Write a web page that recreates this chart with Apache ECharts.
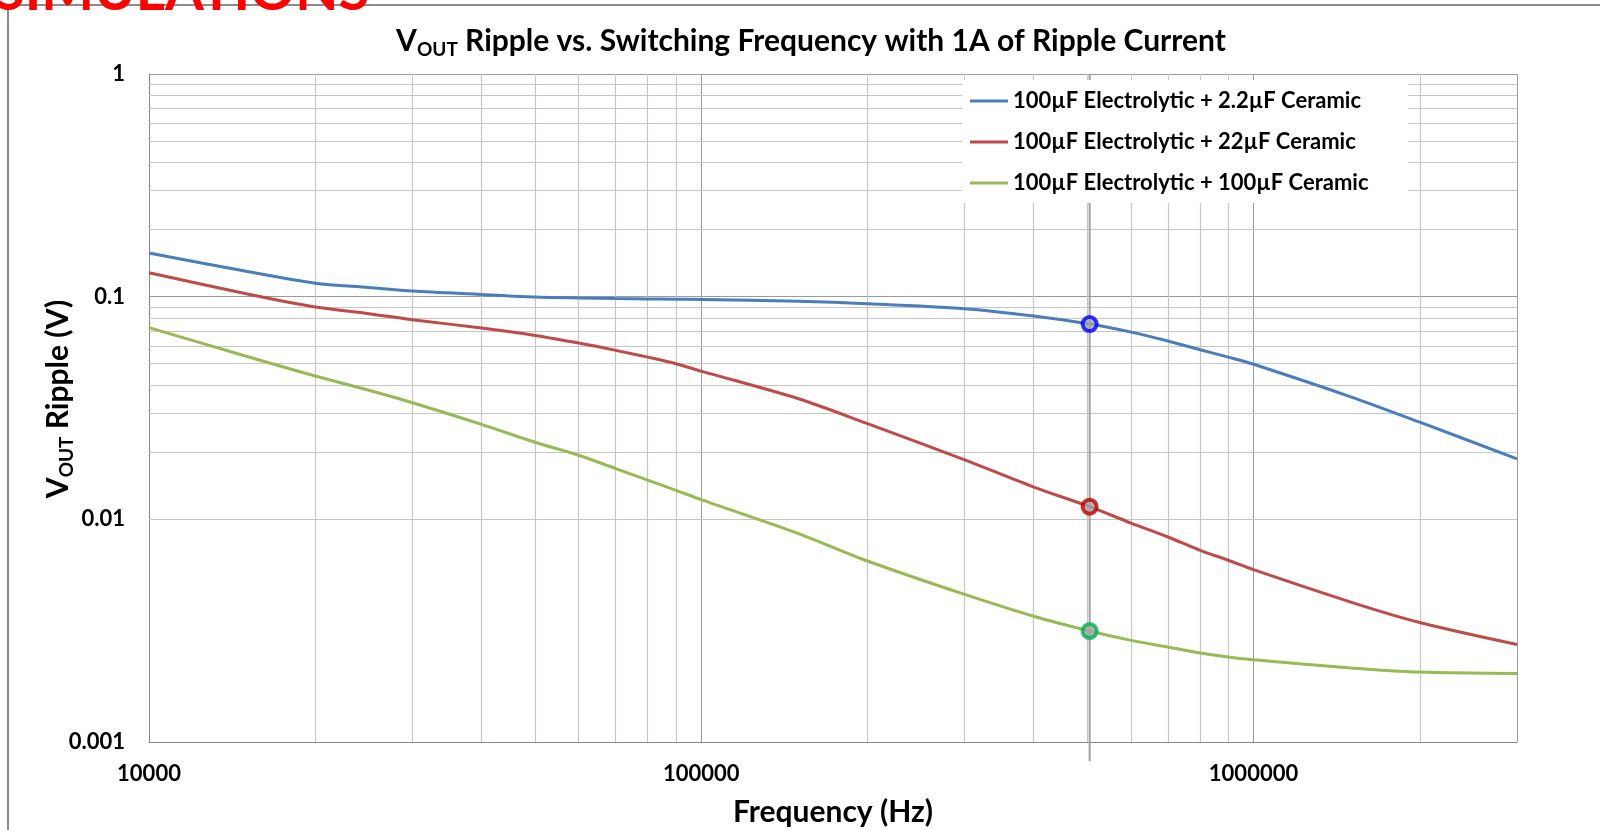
<!DOCTYPE html>
<html>
<head>
<meta charset="utf-8">
<title>VOUT Ripple vs. Switching Frequency</title>
<script src="https://cdn.jsdelivr.net/npm/echarts@6/dist/echarts.min.js"></script>
<style>
  html, body { margin: 0; padding: 0; background: #fff; }
  #chart { width: 1600px; height: 830px; }
</style>
</head>
<body>
<div id="chart"></div>
<script>
// data (Hz / V)
const freqs = [10000, 15000, 20000, 25000, 30000, 40000, 50000, 60000, 70000, 80000, 90000,
  100000, 150000, 200000, 300000, 400000, 505000, 600000, 700000, 800000, 900000,
  1000000, 1500000, 2000000, 3000000];
const ripple22uF = [0.157, 0.13, 0.115, 0.11, 0.106, 0.1023, 0.0996, 0.0986, 0.098, 0.0976, 0.0974,
  0.0972, 0.0953, 0.093, 0.0883, 0.0818, 0.0753, 0.0693, 0.0632, 0.0578, 0.0535,
  0.0497, 0.0355, 0.0273, 0.0187];
const ripple220uF = [0.128, 0.103, 0.0898, 0.0839, 0.0788, 0.0723, 0.067, 0.0619, 0.0574, 0.0535, 0.05,
  0.0463, 0.0348, 0.0269, 0.0185, 0.01396, 0.0114, 0.00962, 0.00833, 0.00726, 0.00655,
  0.00594, 0.00425, 0.00344, 0.00274];
const ripple100uF = [0.0726, 0.054, 0.044, 0.038, 0.0334, 0.0267, 0.0222, 0.0194, 0.0169, 0.015, 0.0135,
  0.01226, 0.00863, 0.0065, 0.0046, 0.00367, 0.00315, 0.00286, 0.00267, 0.00251, 0.00241,
  0.00234, 0.00215, 0.00206, 0.00203];

const seriesNames = [
  "100µF Electrolytic + 2.2µF Ceramic",
  "100µF Electrolytic + 22µF Ceramic",
  "100µF Electrolytic + 100µF Ceramic"
];

// highlighted operating point
const markerFreq = 505000;
const markerValues = [0.0753, 0.0114, 0.00315];
const guideLineY = [1, 0.00082];

// axes
const xTickValues = [10000, 100000, 1000000];
const xTickLabels = ["10000", "100000", "1000000"];
const yTickValues = [0.001, 0.01, 0.1, 1];
const yTickLabels = ["0.001", "0.01", "0.1", "1"];
const minorMultiples = [2, 3, 4, 5, 6, 7, 8, 9];

const FONT = "Lato";
const chart = echarts.init(document.getElementById("chart"));

const sameLog = (a, b) => Math.abs(Math.log10(a) - Math.log10(b)) < 1e-6;
const tickLabel = (values, labels) => (v) => {
  const i = values.findIndex((t) => sameLog(t, v));
  return i >= 0 ? labels[i] : "";
};

// minor grid lines at 2..9 of each decade
const minorGrid = [];
xTickValues.forEach((d) => minorMultiples.forEach((m) => {
  if (d * m < 3000000) minorGrid.push({ xAxis: d * m });
}));
yTickValues.slice(0, 3).forEach((d) => minorMultiples.forEach((m) => {
  minorGrid.push({ yAxis: d * m });
}));

const pair = (vals) => freqs.map((f, i) => [f, vals[i]]);
const lineColors = ["#4a7ebb", "#be4b48", "#98b954"];
const markerBorders = ["#0000ff", "#c00000", "#00b050"];

const bold = { fontFamily: FONT, fontWeight: "bold", color: "#000" };

const options = {
  animation: false,
  backgroundColor: "#fff",
  grid: { left: 149, top: 74, width: 1368, height: 668, outerBoundsMode: "none" },
  graphic: [
    {
      type: "rect",
      shape: { x: 8, y: 5, width: 1700, height: 900 },
      style: { fill: "none", stroke: "#8c8c8c", lineWidth: 2 },
      z: 0
    },
    {
      type: "text",
      x: 811,
      y: 41,
      style: {
        text: "{m|V}{s|OUT}{m| Ripple vs. Switching Frequency with 1A of Ripple Current}",
        align: "center",
        verticalAlign: "middle",
        rich: {
          m: { ...bold, fontSize: 30, lineHeight: 36, verticalAlign: "middle" },
          s: { ...bold, fontSize: 19, lineHeight: 36, verticalAlign: "bottom" }
        }
      }
    },
    {
      type: "text",
      x: -6,
      y: 20,
      z: 100,
      style: {
        text: "SIMULATIONS",
        fontFamily: FONT,
        fontWeight: "bold",
        fontSize: 56,
        fill: "#ff0000",
        align: "left",
        verticalAlign: "bottom"
      }
    }
  ],
  legend: {
    data: seriesNames,
    orient: "vertical",
    left: 962,
    top: 80,
    padding: [9, 40, 8, 8],
    backgroundColor: "#fff",
    icon: "rect",
    itemWidth: 38,
    itemHeight: 3,
    itemGap: 17,
    textStyle: { ...bold, fontSize: 22, lineHeight: 24 }
  },
  xAxis: {
    type: "log",
    logBase: 10,
    min: 10000,
    max: 3000000,
    name: "Frequency (Hz)",
    nameLocation: "middle",
    nameGap: 55,
    nameMoveOverlap: false,
    nameTextStyle: { ...bold, fontSize: 30 },
    axisLine: { show: true, lineStyle: { color: "#868686", width: 1 } },
    axisTick: { show: false },
    axisLabel: { ...bold, fontSize: 22, margin: 21, formatter: tickLabel(xTickValues, xTickLabels) },
    splitLine: { show: true, lineStyle: { color: "#9a9a9a", width: 1 } }
  },
  yAxis: {
    type: "log",
    logBase: 10,
    min: 0.001,
    max: 1,
    name: "{m|V}{s|OUT}{m| Ripple (V)}",
    nameLocation: "middle",
    nameRotate: 90,
    nameGap: 73,
    nameMoveOverlap: false,
    nameTextStyle: {
      padding: [0, 0, 0, 18],
      rich: {
        m: { ...bold, fontSize: 30, lineHeight: 36, verticalAlign: "middle" },
        s: { ...bold, fontSize: 19, lineHeight: 36, verticalAlign: "bottom" }
      }
    },
    axisLine: { show: true, lineStyle: { color: "#868686", width: 1 } },
    axisTick: { show: false },
    axisLabel: { ...bold, fontSize: 22, margin: 24, formatter: tickLabel(yTickValues, yTickLabels) },
    splitLine: { show: true, lineStyle: { color: "#9a9a9a", width: 1 } }
  },
  series: [
    {
      name: "guide",
      type: "line",
      data: guideLineY.map((v) => [markerFreq, v]),
      clip: false,
      symbol: "none",
      silent: true,
      z: 1,
      lineStyle: { color: "#a0a0a0", width: 2 },
      markLine: {
        silent: true,
        z: 1,
        symbol: ["none", "none"],
        label: { show: false },
        lineStyle: { type: "solid", color: "#c6c6c6", width: 1.2 },
        data: minorGrid
      }
    },
    ...[ripple22uF, ripple220uF, ripple100uF].map((vals, i) => ({
      name: seriesNames[i],
      type: "line",
      data: pair(vals),
      symbol: "none",
      smooth: 0.3,
      z: 3,
      color: lineColors[i],
      lineStyle: { color: lineColors[i], width: 3 }
    })),
    {
      name: "operating point",
      type: "scatter",
      z: 5,
      symbol: "circle",
      symbolSize: 14,
      data: markerValues.map((v, i) => ({
        value: [markerFreq, v],
        itemStyle: { color: "#a6a6a6", borderColor: markerBorders[i], borderWidth: 4 }
      }))
    }
  ]
};

chart.setOption(options);

window.addEventListener("resize", () => chart.resize());
</script>
</body>
</html>
